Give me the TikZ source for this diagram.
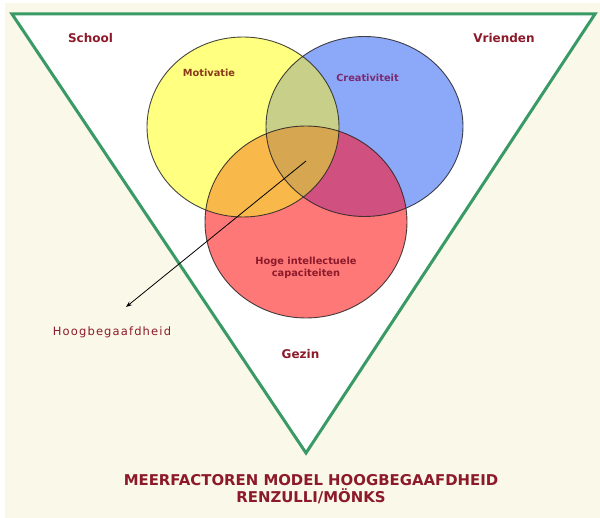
\documentclass[tikz,border=0pt]{standalone}
\usepackage{fontspec}
\setmainfont{DejaVu Sans}
\newfontfamily\spacedfont[LetterSpace=10]{DejaVu Sans}
\usetikzlibrary{arrows.meta}
\definecolor{cream}{HTML}{FAF8E8}
\definecolor{trigreen}{HTML}{3A9A66}
\definecolor{cyellow}{HTML}{FFFF80}
\definecolor{cblue}{HTML}{8CA8F8}
\definecolor{cred}{HTML}{FF7878}
\definecolor{cyb}{HTML}{C8CF88}
\definecolor{cyr}{HTML}{F8B84A}
\definecolor{cbr}{HTML}{D05080}
\definecolor{cybr}{HTML}{D6A650}
\definecolor{txtred}{HTML}{8C1A2A}
\definecolor{txtbrown}{HTML}{8A3A1A}
\definecolor{txtpurple}{HTML}{7A2A70}
\tikzset{
  lbl/.style={text=txtred, inner sep=0pt, font=\bfseries\fontsize{12}{14}\selectfont},
  smalllbl/.style={inner sep=0pt, font=\bfseries\fontsize{9.8}{12}\selectfont, align=center},
  outline/.style={draw=black!85, draw opacity=0.85, line width=0.9pt},
}
\begin{document}
\begin{tikzpicture}[x=1pt,y=-1pt]
\useasboundingbox (0,0) rectangle (600,518);
\fill[white] (0,0) rectangle (600,518);
\fill[cream] (5,3) rectangle (600,518);
% triangle
\coordinate (tl) at (12,14);
\coordinate (tr) at (595,14);
\coordinate (tb) at (306,453);
\filldraw[fill=white, draw=trigreen, line width=3pt, line join=miter] (tl) -- (tr) -- (tb) -- cycle;
% circles
\def\ypath{(243,127) ellipse [x radius=96pt, y radius=90pt]}
\def\bpath{(364.5,126.5) ellipse [x radius=98.5pt, y radius=90pt]}
\def\rpath{(306,222) ellipse [x radius=101pt, y radius=96pt]}
\fill[cyellow] \ypath;
\fill[cblue] \bpath;
\fill[cred] \rpath;
\begin{scope}\clip \ypath; \fill[cyb] \bpath; \end{scope}
\begin{scope}\clip \ypath; \fill[cyr] \rpath; \end{scope}
\begin{scope}\clip \bpath; \fill[cbr] \rpath; \end{scope}
\begin{scope}\clip \ypath; \clip \bpath; \fill[cybr] \rpath; \end{scope}
\draw[outline] \ypath;
\draw[outline] \bpath;
\draw[outline] \rpath;
% labels
\node[lbl] (school) at (90.5,38) {School};
\node[lbl] (vrienden) at (504,38) {Vrienden};
\node[smalllbl, text=txtbrown] (motiv) at (209,73) {Motivatie};
\node[smalllbl, text=txtpurple] (creat) at (367.5,77.5) {Creativiteit};
\node[smalllbl, text=txtred] (hoge) at (306,268) {Hoge intellectuele\\capaciteiten};
\node[lbl] (gezin) at (300.5,354) {Gezin};
\node[inner sep=0pt, text=txtred, font=\spacedfont\fontsize{11.5}{13}\selectfont] (hoog) at (112,332) {Hoogbegaafdheid};
\node[inner sep=0pt, text=txtred, align=center, font=\bfseries\fontsize{14.9}{17}\selectfont] (title) at (311,489.5) {MEERFACTOREN MODEL HOOGBEGAAFDHEID\\RENZULLI/MÖNKS};
% arrow
\coordinate (arrowstart) at (306,161);
\coordinate (arrowend) at (126,307);
\draw[-{Stealth[length=6pt,width=4.5pt]}, line width=0.8pt, black] (arrowstart) -- (arrowend);
\end{tikzpicture}
\end{document}
